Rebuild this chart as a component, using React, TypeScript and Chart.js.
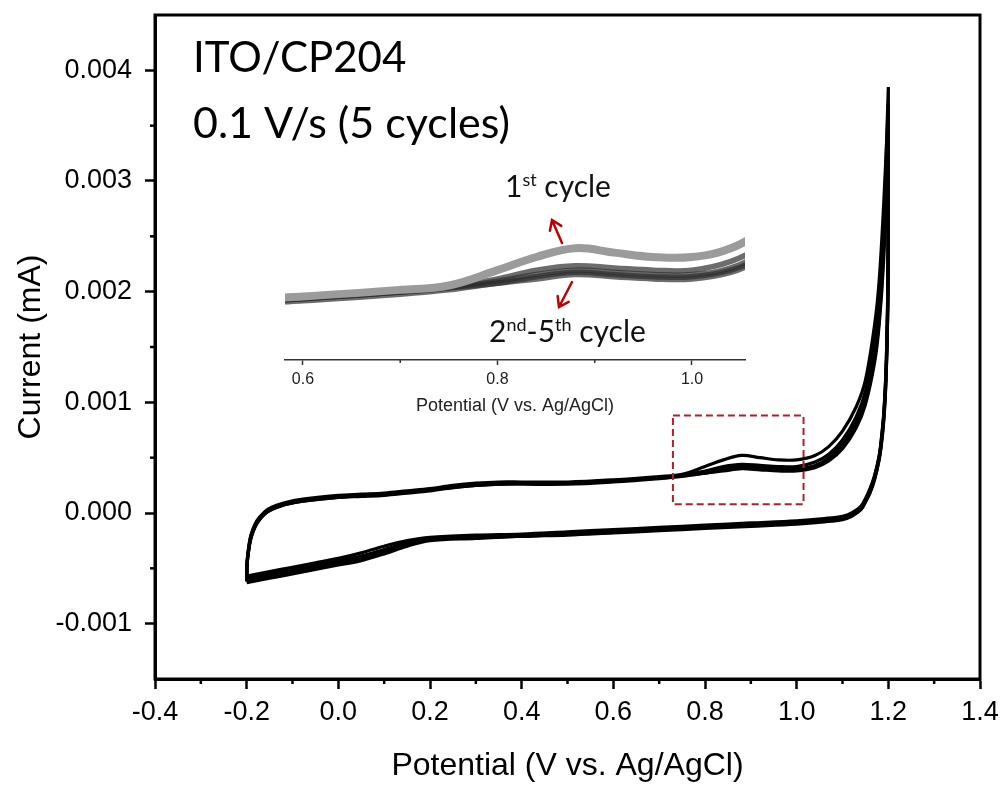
import React, { useEffect, useRef } from 'react';
import { Chart, registerables } from 'chart.js';

Chart.register(...registerables);

// ---------- data (potential in V, current in mA) ----------
const ANODIC_X = [-0.2, -0.199, -0.196, -0.192, -0.186, -0.178, -0.168, -0.155, -0.135, -0.1, -0.05, 0.0, 0.05, 0.1, 0.15, 0.2, 0.25, 0.3, 0.35, 0.4, 0.5, 0.6, 0.7, 0.75, 0.8, 0.84, 0.88, 0.92, 0.96, 1.0, 1.04, 1.07, 1.1, 1.13, 1.15, 1.17, 1.18, 1.19, 1.2];
const CATHODIC_X = [1.2, 1.2, 1.199, 1.197, 1.194, 1.19, 1.185, 1.18, 1.17, 1.16, 1.15, 1.14, 1.12, 1.1, 1.06, 1.0, 0.9, 0.8, 0.7, 0.6, 0.5, 0.4, 0.3, 0.2, 0.15, 0.1, 0.05, 0.0, -0.05, -0.1, -0.15, -0.2];

const CYCLE1_ANODIC = [-0.00058, -0.00044, -0.00032, -0.00022, -0.00014, -0.00007, -0.00002, 0.00003, 0.00007, 0.00011, 0.00014, 0.00016, 0.00017, 0.00018, 0.0002, 0.00022, 0.00025, 0.00027, 0.00028, 0.00028, 0.00028, 0.0003, 0.00033, 0.00035, 0.00042, 0.00048, 0.00052, 0.0005, 0.00048, 0.00048, 0.00052, 0.0006, 0.00074, 0.00096, 0.0012, 0.0017, 0.0021, 0.0028, 0.0037];
const CYCLE2_ANODIC = [-0.00057, -0.00044, -0.00033, -0.00023, -0.00015, -0.00008, -0.00003, 0.00002, 0.00006, 0.0001, 0.00013, 0.00015, 0.00016, 0.00017, 0.00019, 0.00021, 0.00024, 0.00026, 0.00027, 0.00027, 0.00027, 0.00029, 0.00032, 0.00034, 0.00038, 0.00042, 0.00044, 0.00043, 0.00042, 0.00042, 0.00046, 0.00053, 0.00066, 0.00087, 0.0011, 0.00155, 0.0019, 0.0026, 0.00385];
const CYCLE3_ANODIC = [-0.00059, -0.00045, -0.00034, -0.00024, -0.00016, -0.00009, -0.00003, 0.00002, 0.00006, 0.0001, 0.00013, 0.00015, 0.00016, 0.00017, 0.00019, 0.00021, 0.00024, 0.00026, 0.00027, 0.00027, 0.00027, 0.00029, 0.00032, 0.00034, 0.00037, 0.0004, 0.00042, 0.00041, 0.0004, 0.0004, 0.00043, 0.0005, 0.00062, 0.00082, 0.00104, 0.00145, 0.0018, 0.0025, 0.0036];
const CYCLE4_ANODIC = [-0.00061, -0.00046, -0.00035, -0.00025, -0.00016, -0.00009, -0.00004, 0.00001, 0.00005, 0.00009, 0.00012, 0.00014, 0.00016, 0.00017, 0.00019, 0.00021, 0.00023, 0.00025, 0.00026, 0.00027, 0.00027, 0.00029, 0.00032, 0.00034, 0.00036, 0.00039, 0.00041, 0.0004, 0.00039, 0.00039, 0.00042, 0.00048, 0.0006, 0.00079, 0.001, 0.0014, 0.00175, 0.0024, 0.0035];
const CYCLE5_ANODIC = [-0.00062, -0.00047, -0.00035, -0.00025, -0.00017, -0.0001, -0.00004, 0.00001, 0.00005, 0.00009, 0.00012, 0.00014, 0.00015, 0.00016, 0.00018, 0.0002, 0.00023, 0.00025, 0.00026, 0.00026, 0.00026, 0.00028, 0.00031, 0.00033, 0.00036, 0.00038, 0.0004, 0.00039, 0.00038, 0.00038, 0.00041, 0.00047, 0.00058, 0.00077, 0.00098, 0.00136, 0.0017, 0.0023, 0.0034];

const CYCLE1_CATHODIC = [0.0037, 0.0027, 0.0021, 0.0016, 0.0012, 0.0009, 0.00068, 0.00052, 0.00034, 0.00022, 0.00013, 0.00006, 0.0, -0.00003, -0.00005, -0.00007, -0.00009, -0.00011, -0.00013, -0.00015, -0.00017, -0.00019, -0.0002, -0.00022, -0.00025, -0.0003, -0.00036, -0.00041, -0.00045, -0.00049, -0.00053, -0.00057];
const CYCLE2_CATHODIC = [0.00385, 0.0028, 0.0021, 0.0016, 0.0012, 0.00089, 0.00067, 0.00051, 0.00033, 0.00021, 0.00012, 0.00005, -0.00001, -0.00004, -0.00006, -0.00008, -0.0001, -0.00012, -0.00014, -0.00016, -0.00018, -0.0002, -0.00021, -0.00023, -0.00027, -0.00033, -0.00039, -0.00043, -0.00047, -0.00051, -0.00055, -0.00059];
const CYCLE3_CATHODIC = [0.0036, 0.0027, 0.002, 0.0015, 0.00115, 0.00087, 0.00065, 0.0005, 0.00032, 0.0002, 0.00011, 0.00004, -0.00002, -0.00005, -0.00007, -0.00009, -0.00011, -0.00013, -0.00015, -0.00017, -0.00019, -0.00021, -0.00022, -0.00024, -0.00028, -0.00035, -0.00041, -0.00045, -0.00049, -0.00053, -0.00057, -0.00061];
const CYCLE4_CATHODIC = [0.0035, 0.0026, 0.002, 0.0015, 0.00113, 0.00085, 0.00064, 0.00049, 0.00031, 0.00019, 0.0001, 0.00003, -0.00002, -0.00005, -0.00007, -0.00009, -0.00011, -0.00013, -0.00015, -0.00017, -0.00019, -0.00021, -0.00022, -0.00024, -0.00029, -0.00036, -0.00042, -0.00046, -0.0005, -0.00054, -0.00058, -0.00062];
const CYCLE5_CATHODIC = [0.0034, 0.0026, 0.0019, 0.0015, 0.0011, 0.00083, 0.00062, 0.00048, 0.0003, 0.00018, 0.0001, 0.00003, -0.00003, -0.00006, -0.00008, -0.0001, -0.00012, -0.00014, -0.00016, -0.00018, -0.0002, -0.00021, -0.00023, -0.00025, -0.0003, -0.00037, -0.00043, -0.00047, -0.00051, -0.00055, -0.00059, -0.00063];

const ANODIC_CYCLES = [CYCLE1_ANODIC, CYCLE2_ANODIC, CYCLE3_ANODIC, CYCLE4_ANODIC, CYCLE5_ANODIC];
const CATHODIC_CYCLES = [CYCLE1_CATHODIC, CYCLE2_CATHODIC, CYCLE3_CATHODIC, CYCLE4_CATHODIC, CYCLE5_CATHODIC];

const X_TICKS = [-0.4, -0.2, 0.0, 0.2, 0.4, 0.6, 0.8, 1.0, 1.2, 1.4];
const X_MINOR = [-0.3, -0.1, 0.1, 0.3, 0.5, 0.7, 0.9, 1.1, 1.3];
const Y_TICKS = [-0.001, 0.0, 0.001, 0.002, 0.003, 0.004];
const Y_MINOR = [-0.0005, 0.0005, 0.0015, 0.0025, 0.0035];
const INSET_TICKS = [0.6, 0.8, 1.0];
const INSET_MINOR = [0.7, 0.9];
const ZOOM_BOX_X = [0.73, 1.015];
const ZOOM_BOX_Y = [0.00008, 0.00088];

const FONT = 'Liberation Sans';
const NOTE_FONT = 'Lato';

function cyclePoints(k: number) {
  const a = ANODIC_X.map((x, i) => ({ x, y: ANODIC_CYCLES[k][i] }));
  const c = CATHODIC_X.map((x, i) => ({ x, y: CATHODIC_CYCLES[k][i] }));
  return a.concat(c);
}
function anodicPoints(k: number) {
  return ANODIC_X.map((x, i) => ({ x, y: ANODIC_CYCLES[k][i] }));
}

function drawRich(ctx: CanvasRenderingContext2D, parts: [string, boolean][], x: number, y: number, size: number) {
  let cx = x;
  for (const [t, sup] of parts) {
    ctx.font = `${sup ? Math.round(size * 0.6) : size}px ${NOTE_FONT}`;
    ctx.fillText(t, cx, sup ? y - size * 0.38 : y);
    cx += ctx.measureText(t).width;
  }
}

function drawArrow(ctx: CanvasRenderingContext2D, x1: number, y1: number, x2: number, y2: number) {
  const ang = Math.atan2(y2 - y1, x2 - x1);
  const L = 11;
  ctx.beginPath();
  ctx.moveTo(x1, y1);
  ctx.lineTo(x2, y2);
  ctx.moveTo(x2 - L * Math.cos(ang - 0.6), y2 - L * Math.sin(ang - 0.6));
  ctx.lineTo(x2, y2);
  ctx.lineTo(x2 - L * Math.cos(ang + 0.6), y2 - L * Math.sin(ang + 0.6));
  ctx.stroke();
}

const mainDecor = {
  id: 'mainDecor',
  afterDraw(chart: any) {
    const { ctx, chartArea } = chart;
    const xs = chart.scales.x;
    const ys = chart.scales.y;
    ctx.save();
    ctx.strokeStyle = '#000';
    ctx.lineWidth = 2.5;
    X_MINOR.forEach((v) => {
      const p = xs.getPixelForValue(v);
      ctx.beginPath();
      ctx.moveTo(p, chartArea.bottom);
      ctx.lineTo(p, chartArea.bottom + 5);
      ctx.stroke();
    });
    Y_MINOR.forEach((v) => {
      const p = ys.getPixelForValue(v);
      ctx.beginPath();
      ctx.moveTo(chartArea.left, p);
      ctx.lineTo(chartArea.left - 5, p);
      ctx.stroke();
    });
    ctx.lineWidth = 3;
    ctx.strokeRect(chartArea.left, chartArea.top, chartArea.right - chartArea.left, chartArea.bottom - chartArea.top);

    // dashed zoom box
    const bx1 = xs.getPixelForValue(ZOOM_BOX_X[0]);
    const bx2 = xs.getPixelForValue(ZOOM_BOX_X[1]);
    const by1 = ys.getPixelForValue(ZOOM_BOX_Y[1]);
    const by2 = ys.getPixelForValue(ZOOM_BOX_Y[0]);
    ctx.strokeStyle = '#b0202a';
    ctx.lineWidth = 2;
    ctx.setLineDash([7, 4]);
    ctx.strokeRect(bx1, by1, bx2 - bx1, by2 - by1);
    ctx.setLineDash([]);

    // notes
    ctx.fillStyle = '#000';
    ctx.textAlign = 'left';
    ctx.textBaseline = 'alphabetic';
    ctx.font = `42px ${NOTE_FONT}`;
    ctx.fillText('ITO/CP204', chartArea.left + 38, chartArea.top + 57);
    ctx.font = `43px ${NOTE_FONT}`;
    ctx.fillText('0.1 V/s (5 cycles)', chartArea.left + 38, chartArea.top + 123);
    ctx.restore();
  },
};

const insetDecor = {
  id: 'insetDecor',
  afterDraw(chart: any) {
    const { ctx, chartArea } = chart;
    const xs = chart.scales.x;
    ctx.save();
    ctx.strokeStyle = '#333';
    ctx.lineWidth = 1.5;
    INSET_MINOR.forEach((v) => {
      const p = xs.getPixelForValue(v);
      ctx.beginPath();
      ctx.moveTo(p, chartArea.bottom);
      ctx.lineTo(p, chartArea.bottom + 3);
      ctx.stroke();
    });
    ctx.fillStyle = '#111';
    ctx.textAlign = 'left';
    ctx.textBaseline = 'alphabetic';
    drawRich(ctx, [['1', false], ['st', true], [' cycle', false]], 240, 47, 30);
    drawRich(ctx, [['2', false], ['nd', true], ['-5', false], ['th', true], [' cycle', false]], 224, 192, 30);
    ctx.strokeStyle = '#c00000';
    ctx.lineWidth = 2.5;
    ctx.lineCap = 'round';
    drawArrow(ctx, 297, 93, 287, 70);
    drawArrow(ctx, 307, 132, 294, 157);
    ctx.restore();
  },
};

export default function App() {
  const mainRef = useRef<HTMLCanvasElement | null>(null);
  const insetRef = useRef<HTMLCanvasElement | null>(null);

  useEffect(() => {
    if (!mainRef.current || !insetRef.current) return;
    Chart.defaults.font.family = FONT;

    const mainChart = new Chart(mainRef.current, {
      type: 'scatter',
      data: {
        datasets: [0, 1, 2, 3, 4].map((k) => ({
          label: `Cycle ${k + 1}`,
          data: cyclePoints(k),
          showLine: true,
          borderColor: '#000',
          borderWidth: 3.2,
          pointRadius: 0,
          tension: 0.35,
        })),
      },
      options: {
        responsive: false,
        animation: false,
        devicePixelRatio: 1,
        layout: { padding: { left: 0, right: 23, top: 15, bottom: 0 } },
        plugins: { legend: { display: false }, tooltip: { enabled: false } },
        scales: {
          x: {
            type: 'linear',
            min: -0.4,
            max: 1.4,
            afterBuildTicks: (s: any) => {
              s.ticks = X_TICKS.map((v) => ({ value: v }));
            },
            afterFit: (s: any) => {
              s.height = 106;
              s.paddingLeft = 0;
              s.paddingRight = 0;
            },
            ticks: {
              autoSkip: false,
              maxRotation: 0,
              padding: 7,
              color: '#000',
              font: { size: 27, family: FONT },
              callback: (v: any) => Number(v).toFixed(1),
            },
            grid: { drawOnChartArea: false, drawTicks: true, tickLength: 10, tickWidth: 2.5, tickColor: '#000' },
            border: { display: true, color: '#000', width: 3 },
            title: {
              display: true,
              text: 'Potential (V vs. Ag/AgCl)',
              color: '#000',
              font: { size: 32, family: FONT },
              padding: { top: 0, bottom: 0 },
            },
          },
          y: {
            type: 'linear',
            min: -0.0015,
            max: 0.0045,
            afterBuildTicks: (s: any) => {
              s.ticks = Y_TICKS.map((v) => ({ value: v }));
            },
            afterFit: (s: any) => {
              s.width = 155;
              s.paddingTop = 0;
              s.paddingBottom = 0;
            },
            ticks: {
              autoSkip: false,
              padding: 13,
              color: '#000',
              font: { size: 27, family: FONT },
              callback: (v: any) => Number(v).toFixed(3),
            },
            grid: { drawOnChartArea: false, drawTicks: true, tickLength: 10, tickWidth: 2.5, tickColor: '#000' },
            border: { display: true, color: '#000', width: 3 },
            title: {
              display: true,
              text: 'Current (mA)',
              color: '#000',
              font: { size: 32, family: FONT },
              padding: { top: 12, bottom: 0 },
            },
          },
        },
      },
      plugins: [mainDecor],
    } as any);

    const insetChart = new Chart(insetRef.current, {
      type: 'scatter',
      data: {
        datasets: [0, 1, 2, 3, 4].map((k) => ({
          label: `Cycle ${k + 1}`,
          data: anodicPoints(k),
          showLine: true,
          borderColor: k === 0 ? 'rgba(155,155,155,1)' : 'rgba(45,45,45,0.7)',
          borderWidth: k === 0 ? 8 : 5.5,
          pointRadius: 0,
          tension: 0.4,
        })),
      },
      options: {
        responsive: false,
        animation: false,
        devicePixelRatio: 1,
        layout: { padding: { left: 20, right: 20, top: 50, bottom: 0 } },
        plugins: { legend: { display: false }, tooltip: { enabled: false } },
        scales: {
          x: {
            type: 'linear',
            min: 0.5815,
            max: 1.0545,
            afterBuildTicks: (s: any) => {
              s.ticks = INSET_TICKS.map((v) => ({ value: v }));
            },
            afterFit: (s: any) => {
              s.height = 60;
              s.paddingLeft = 0;
              s.paddingRight = 0;
            },
            ticks: {
              autoSkip: false,
              maxRotation: 0,
              padding: 5,
              color: '#222',
              font: { size: 16, family: FONT },
              callback: (v: any) => Number(v).toFixed(1),
            },
            grid: { drawOnChartArea: false, drawTicks: true, tickLength: 5, tickWidth: 1.5, tickColor: '#333' },
            border: { display: true, color: '#333', width: 1.5 },
            title: {
              display: true,
              text: 'Potential (V vs. Ag/AgCl)',
              color: '#222',
              font: { size: 18, family: FONT },
              padding: { top: 0, bottom: 3 },
            },
          },
          y: { type: 'linear', display: false, min: 0.00001, max: 0.00074 },
        },
      },
      plugins: [insetDecor],
    } as any);

    return () => {
      mainChart.destroy();
      insetChart.destroy();
    };
  }, []);

  return (
    <div style={{ position: 'absolute', left: 0, top: 0, width: 1003, height: 785, background: '#fff' }}>
      <canvas ref={mainRef} width={1003} height={785} style={{ position: 'absolute', left: 0, top: 0 }} />
      <canvas ref={insetRef} width={500} height={270} style={{ position: 'absolute', left: 265, top: 150 }} />
    </div>
  );
}
